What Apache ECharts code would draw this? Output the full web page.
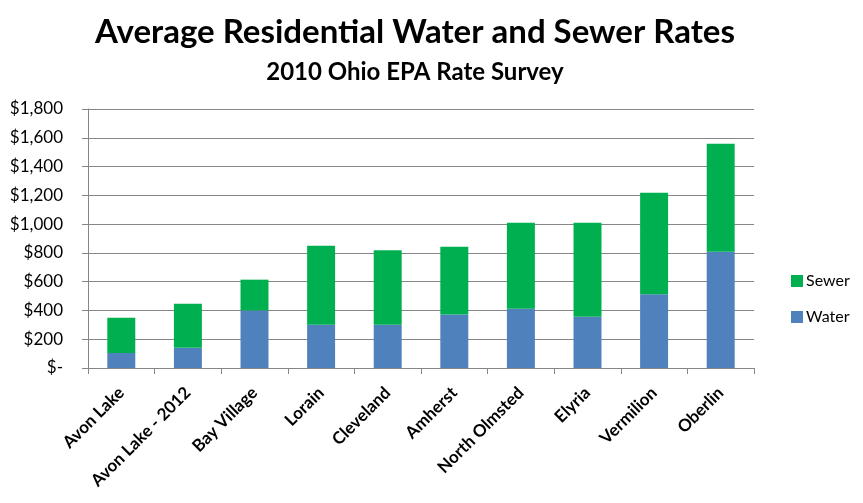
<!DOCTYPE html>
<html><head><meta charset="utf-8">
<script src="https://cdn.jsdelivr.net/npm/echarts@6/dist/echarts.min.js"></script>
<style>html,body{margin:0;padding:0;background:#fff}#c{width:863px;height:503px}</style>
</head><body><div id="c"></div>
<script>
var categories = ['Avon Lake','Avon Lake - 2012','Bay Village','Lorain','Cleveland','Amherst','North Olmsted','Elyria','Vermilion','Oberlin'];
var water = [105, 140, 400, 300, 300, 371, 412, 357, 512, 808];
var sewer = [245, 307, 214, 550, 518, 472, 598, 653, 706, 751];
var yTicks = {min: 0, max: 1800, interval: 200};

var chart = echarts.init(document.getElementById('c'));
var font = 'Lato, "Open Sans", sans-serif';
chart.setOption({
  animation: false,
  backgroundColor: '#fff',
  title: [
    {text: 'Average Residential Water and Sewer Rates', left: 410, top: 11, textAlign: 'center',
     textStyle: {fontFamily: font, fontWeight: 'bold', fontSize: 33, color: '#000'}},
    {text: '2010 Ohio EPA Rate Survey', left: 410, top: 55, textAlign: 'center',
     textStyle: {fontFamily: font, fontWeight: 'bold', fontSize: 24, color: '#000'}}
  ],
  legend: {
    orient: 'vertical', left: 786, top: 268, itemWidth: 12, itemHeight: 12, itemGap: 20,
    data: ['Sewer','Water'],
    icon: 'rect',
    textStyle: {fontFamily: font, fontSize: 16, color: '#000', padding: [0,0,0,-2]}
  },
  grid: {left: 88, right: 109, top: 109, bottom: 135, containLabel: false},
  xAxis: {
    type: 'category', data: categories,
    axisLine: {lineStyle: {color: '#868686', width: 1}},
    axisTick: {show: true, length: 6, lineStyle: {color: '#868686'}},
    axisLabel: {rotate: 45, interval: 0, margin: 22, fontFamily: font, fontWeight: 'bold', fontSize: 17, color: '#000'}
  },
  yAxis: {
    type: 'value', min: yTicks.min, max: yTicks.max, interval: yTicks.interval,
    axisLine: {show: true, lineStyle: {color: '#868686', width: 1}},
    axisTick: {show: true, length: 6, lineStyle: {color: '#868686'}},
    splitLine: {lineStyle: {color: '#868686', width: 1}},
    axisLabel: {margin: 25, fontFamily: font, fontSize: 17, color: '#000',
      formatter: function(v){ return v === 0 ? '$-' : '$' + v.toLocaleString('en-US'); }}
  },
  series: [
    {name: 'Water', type: 'bar', stack: 't', data: water, barWidth: '42%', itemStyle: {color: '#4F81BD'}},
    {name: 'Sewer', type: 'bar', stack: 't', data: sewer, barWidth: '42%', itemStyle: {color: '#00B050'}}
  ]
});
</script></body></html>
